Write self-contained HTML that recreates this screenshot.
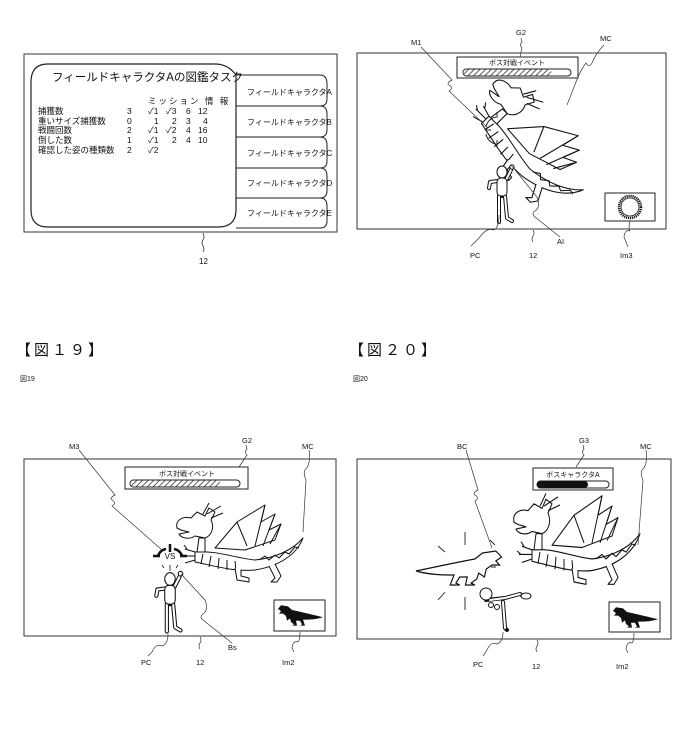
<!DOCTYPE html>
<html><head><meta charset="utf-8"><style>
html,body{margin:0;padding:0;background:#fff}
svg{display:block}
text{font-family:"Liberation Sans","Noto Sans CJK JP",sans-serif;fill:#111}
.j{font-family:"Liberation Sans","Noto Sans CJK JP",sans-serif}
</style></head><body>
<svg width="698" height="730" viewBox="0 0 698 730" xmlns="http://www.w3.org/2000/svg">
<defs>
<pattern id="hatch" width="4" height="4" patternUnits="userSpaceOnUse" patternTransform="rotate(45)">
<rect width="4" height="4" fill="#fff"/><line x1="0" y1="0" x2="0" y2="4" stroke="#333" stroke-width="1.6"/></pattern>
<g id="dragon" fill="#fff" stroke="#111" stroke-width="1" stroke-linejoin="round">
<path d="M40,48 L62,22 L90,5 L86,22 L100,14 L94,30 L106,24 L100,40 L70,50 Z"/>
<path d="M62,22 L72,46 M90,5 L80,46 M100,14 L88,46 M106,24 L95,44" fill="none"/>
<path d="M20,52 C40,50 60,58 80,60 C100,58 118,50 128,38 C122,54 105,66 80,70 C60,72 40,66 20,62 Z"/>
<path d="M84,60 L90,56 L94,60 L100,55 L104,58 L110,52 L114,54 L120,47 L124,48" fill="none"/>
<path d="M28,54 L26,64 M36,56 L34,67 M44,58 L43,69 M52,60 L52,70 M60,61 L61,71" fill="none"/>
<path d="M24,38 L22,52 L30,52 L30,38 Z"/>
<path d="M2,28 C0,20 8,16 16,18 L22,12 L30,16 L34,8 L40,12 L36,20 C40,28 36,36 30,38 L20,36 C14,40 6,38 4,34 L14,32 L6,30 Z"/>
<path d="M28,14 L34,3 M32,14 L46,6 M36,18 L48,13" fill="none"/>
<path d="M20,52 L10,49 M20,56 L7,56 M20,60 L10,63 M12,49 L9,45 M9,56 L5,53" fill="none"/>
<path d="M60,68 L62,80 L74,82 L74,78 L66,76 L66,70"/>
<path d="M94,66 L100,78 L96,82 L102,82 L106,76 L100,64"/>
</g>
<g id="rex">
<path d="M0,22 C30,16 50,12 62,10 L70,4 L84,2 L90,8 L84,12 L88,16 L80,16 L74,20 L72,28 L66,24 L64,30 L58,34 L62,36 L52,36 L54,28 L46,28 L42,34 L46,36 L36,36 L40,26 C30,26 15,26 0,22 Z"/>
</g>
<g id="person" fill="none" stroke-linecap="round" stroke-linejoin="round">
<g stroke="#111" stroke-width="4">
<path d="M4,8 L9,-2"/><path d="M-4,9 L-12,10 L-13,16"/><path d="M-3,24 L-3,50"/><path d="M3,24 L5,46 L10,49"/><path d="M0,6 L0,24"/></g>
<g stroke="#fff" stroke-width="2">
<path d="M4,8 L9,-2"/><path d="M-4,9 L-12,10 L-13,16"/><path d="M-3,24 L-3,50"/><path d="M3,24 L5,46 L10,49"/></g>
<rect x="-5" y="6" width="10" height="18" rx="4" fill="#fff" stroke="#111"/>
<ellipse cx="0" cy="0" rx="5" ry="6" fill="#fff" stroke="#111"/>
<circle cx="10" cy="-5" r="2.2" fill="#fff" stroke="#111"/>
</g>
</defs>

<!-- ===== Panel 1 ===== -->
<rect x="24" y="54" width="313" height="178" fill="#fff" stroke="#333" stroke-width="1"/>
<path d="M236,75 L320,75 Q327,75 327,84 L327,99 Q327,106 320,106 L236,106" fill="none" stroke="#222"/>
<path d="M236,106 L320,106 Q327,106 327,114 L327,130 Q327,137 320,137 L236,137" fill="none" stroke="#222"/>
<path d="M236,137 L320,137 Q327,137 327,145 L327,161 Q327,168 320,168 L236,168" fill="none" stroke="#222"/>
<path d="M236,168 L320,168 Q327,168 327,176 L327,191 Q327,198 320,198 L236,198" fill="none" stroke="#222"/>
<path d="M236,198 L320,198 Q327,198 327,206 L327,221 Q327,228 320,228 L236,228" fill="none" stroke="#222"/>
<path d="M48,64 L215,64 Q228,64 236,75 L236,210 Q236,227 218,227 L48,227 Q31,227 31,210 L31,82 Q31,64 48,64 Z" fill="#fff" stroke="#222" stroke-width="1.2"/>
<text x="52" y="81" font-size="11.5">フィールドキャラクタAの図鑑タスク</text>
<g font-size="8">
<text x="247" y="95">フィールドキャラクタA</text>
<text x="247" y="125">フィールドキャラクタB</text>
<text x="247" y="156">フィールドキャラクタC</text>
<text x="247" y="186">フィールドキャラクタD</text>
<text x="247" y="216">フィールドキャラクタE</text>
</g>
<g font-size="8.5">
<text x="148" y="104" letter-spacing="2">ミッション 情 報</text>
<text x="38" y="114">捕獲数</text><text x="38" y="124">重いサイズ捕獲数</text><text x="38" y="133">戦闘回数</text><text x="38" y="143">倒した数</text><text x="38" y="153">確認した姿の種類数</text>
<text x="127" y="114">3</text><text x="127" y="124">0</text><text x="127" y="133">2</text><text x="127" y="143">1</text><text x="127" y="153">2</text>
<text x="148" y="114">✓1</text><text x="166" y="114">✓3</text><text x="186" y="114">6</text><text x="198" y="114">12</text>
<text x="154" y="124">1</text><text x="172" y="124">2</text><text x="186" y="124">3</text><text x="203" y="124">4</text>
<text x="148" y="133">✓1</text><text x="166" y="133">✓2</text><text x="186" y="133">4</text><text x="198" y="133">16</text>
<text x="148" y="143">✓1</text><text x="172" y="143">2</text><text x="186" y="143">4</text><text x="198" y="143">10</text>
<text x="148" y="153">✓2</text>
</g>
<path d="M203,233 q2,4 0,7 q-2,3 0,6 q2,3 0,6" fill="none" stroke="#333" stroke-width="0.8"/>
<text x="199" y="264" font-size="8">12</text>

<!-- ===== Panel 2 (Fig 18) ===== -->
<rect x="357" y="53" width="309" height="176" fill="#fff" stroke="#333"/>
<rect x="457" y="57" width="121" height="21" fill="#fff" stroke="#222"/>
<text x="517" y="65" font-size="7" text-anchor="middle">ボス対戦イベント</text>
<rect x="463" y="69" width="108" height="7" rx="3.5" fill="#fff" stroke="#222"/>
<rect x="463.5" y="69.5" width="88" height="6" rx="3" fill="url(#hatch)"/>
<use href="#dragon" transform="translate(512,62) rotate(45) scale(1.1,1.05)"/>
<g stroke="#222" stroke-width="1" fill="none">
<path d="M496,117 a12,12 0 0 0 -10,10 M486,134 a12,12 0 0 0 10,10"/>
<path d="M485,130 L491,130 M497,112 L497,118 M497,140 L497,146"/>
</g>
<use href="#person" transform="translate(502,172)"/>
<rect x="605" y="193" width="50" height="28" fill="#fff" stroke="#222"/>
<circle cx="630" cy="207" r="11" fill="#fff" stroke="#111" stroke-width="2.5" stroke-dasharray="1.2 0.8"/>
<circle cx="630" cy="207" r="9" fill="#fff" stroke="#111" stroke-width="0.8"/>
<g fill="none" stroke="#333" stroke-width="0.7">
<path d="M521,38 l1,4 q-3,3 0,6 l-2,9"/>
<path d="M604,45 q-8,8 -12,18 q-3,5 -6,0 q-4,5 -8,14 L567,105"/>
<path d="M421,47 L452,80 q-6,3 -3,5 q5,3 0,6 L488,128"/>
<path d="M511,165 L537,197 q4,10 -2,14 q-4,3 0,6 L560,237"/>
<path d="M499,215 q0,14 -6,15 q-6,-3 -14,8 l-8,8"/>
<path d="M533,230 q2,3 0,6 q-2,3 0,6"/>
<path d="M630,221 q-2,8 0,10 q-5,-2 -6,6 l4,10"/>
</g>
<g font-size="7.5">
<text x="516" y="35">G2</text><text x="600" y="41">MC</text><text x="411" y="45">M1</text>
<text x="470" y="258">PC</text><text x="529" y="258">12</text><text x="557" y="244">AI</text><text x="620" y="258">Im3</text>
</g>

<!-- headers -->
<text x="16" y="355" font-size="15" class="j" letter-spacing="3">【図１９】</text>
<text x="20" y="381" font-size="7">図19</text>
<text x="349" y="355" font-size="15" class="j" letter-spacing="3">【図２０】</text>
<text x="353" y="381" font-size="7">図20</text>

<!-- ===== Panel 3 (Fig 19) ===== -->
<rect x="24" y="459" width="312" height="177" fill="#fff" stroke="#333"/>
<rect x="125" y="467" width="123" height="22" fill="#fff" stroke="#222"/>
<text x="187" y="476" font-size="7" text-anchor="middle">ボス対戦イベント</text>
<rect x="130" y="480" width="110" height="7" rx="3.5" fill="#fff" stroke="#222"/>
<rect x="130.5" y="480.5" width="90" height="6" rx="3" fill="url(#hatch)"/>
<use href="#dragon" transform="translate(175,500)"/>
<g stroke="#111" fill="none">
<path d="M158,556 a10,10 0 0 1 8,-7 M174,549 a10,10 0 0 1 8,7" stroke-width="2.5"/>
<path d="M153,556 L160,556 M180,556 L187,556 M170,544 L170,552" stroke-width="2.5"/>
<path d="M162,565 l2,3 M178,565 l-2,3 M170,565 l0,6" stroke-width="0.8"/>
</g>
<text x="170" y="559" font-size="8" text-anchor="middle">VS</text>
<use href="#person" transform="translate(170,579) scale(1.05)"/>
<rect x="274" y="600" width="51" height="31" fill="#fff" stroke="#222"/>
<use href="#rex" transform="translate(323,604) scale(-0.5,0.6)" fill="#111"/>
<g fill="none" stroke="#333" stroke-width="0.7">
<path d="M246,445 l1,4 q-3,3 0,6 l-8,12"/>
<path d="M309,450 q2,10 -2,18 q-5,3 -1,12 L303,532"/>
<path d="M79,450 L115,495 q-6,3 -3,5 q5,3 0,6 L162,550"/>
<path d="M181,574 L205,600 q4,10 -2,14 q-4,3 0,6 L232,643"/>
<path d="M168,634 q0,10 -6,12 q-6,-3 -10,6 l-4,4"/>
<path d="M200,637 q2,3 0,6 q-2,3 0,6"/>
<path d="M300,632 q0,8 -2,10 q-5,-2 -6,6 l2,4"/>
</g>
<g font-size="7.5">
<text x="242" y="443">G2</text><text x="302" y="449">MC</text><text x="69" y="449">M3</text>
<text x="141" y="665">PC</text><text x="196" y="665">12</text><text x="228" y="650">Bs</text><text x="282" y="665">Im2</text>
</g>

<!-- ===== Panel 4 (Fig 20) ===== -->
<rect x="357" y="459" width="314" height="180" fill="#fff" stroke="#333"/>
<rect x="533" y="468" width="80" height="22" fill="#fff" stroke="#222"/>
<text x="573" y="477" font-size="7" text-anchor="middle">ボスキャラクタA</text>
<rect x="537" y="481" width="72" height="7" rx="3.5" fill="#fff" stroke="#222"/>
<rect x="537" y="481" width="51" height="7" rx="3.5" fill="#111"/>
<use href="#dragon" transform="translate(512,490) scale(1,1.15)"/>
<use href="#rex" transform="translate(416,549) scale(0.95,1)" fill="#fff" stroke="#111" stroke-width="1.2"/>
<g stroke="#222" stroke-width="0.9">
<path d="M465,532 L465,545 M465,597 L465,610 M438,546 L445,552 M438,600 L445,592 M490,540 L495,545 M491,567 L496,567"/>
</g>
<g fill="none" stroke-linecap="round">
<g stroke="#111" stroke-width="4"><path d="M486,600 L505,598 L520,594 L523,596"/><path d="M503,602 L505,628 L507,630"/></g>
<g stroke="#fff" stroke-width="2"><path d="M490,600 L505,598 L520,594"/><path d="M503,602 L505,628"/></g>
<ellipse cx="486" cy="594" rx="6" ry="6" fill="#fff" stroke="#111"/>
<ellipse cx="526" cy="596" rx="5" ry="3" fill="#fff" stroke="#111"/>
<circle cx="491" cy="605" r="2.5" fill="#fff" stroke="#111"/><circle cx="497" cy="607" r="2.5" fill="#fff" stroke="#111"/>
</g>
<rect x="609" y="602" width="51" height="30" fill="#fff" stroke="#222"/>
<use href="#rex" transform="translate(658,606) scale(-0.5,0.6)" fill="#111"/>
<g fill="none" stroke="#333" stroke-width="0.7">
<path d="M583,445 l1,4 q-3,3 0,6 l-8,12"/>
<path d="M646,450 q2,10 -2,18 q-5,3 -1,12 L638,545"/>
<path d="M466,450 L478,490 q-6,3 -3,5 q5,3 0,6 L492,548"/>
<path d="M503,632 q0,10 -6,12 q-6,-3 -10,6 l-4,6"/>
<path d="M537,640 q2,3 0,6 q-2,3 0,6"/>
<path d="M634,633 q0,8 -2,10 q-5,-2 -6,6 l2,4"/>
</g>
<g font-size="7.5">
<text x="579" y="443">G3</text><text x="640" y="449">MC</text><text x="457" y="449">BC</text>
<text x="473" y="667">PC</text><text x="532" y="669">12</text><text x="616" y="669">Im2</text>
</g>
</svg>
</body></html>
